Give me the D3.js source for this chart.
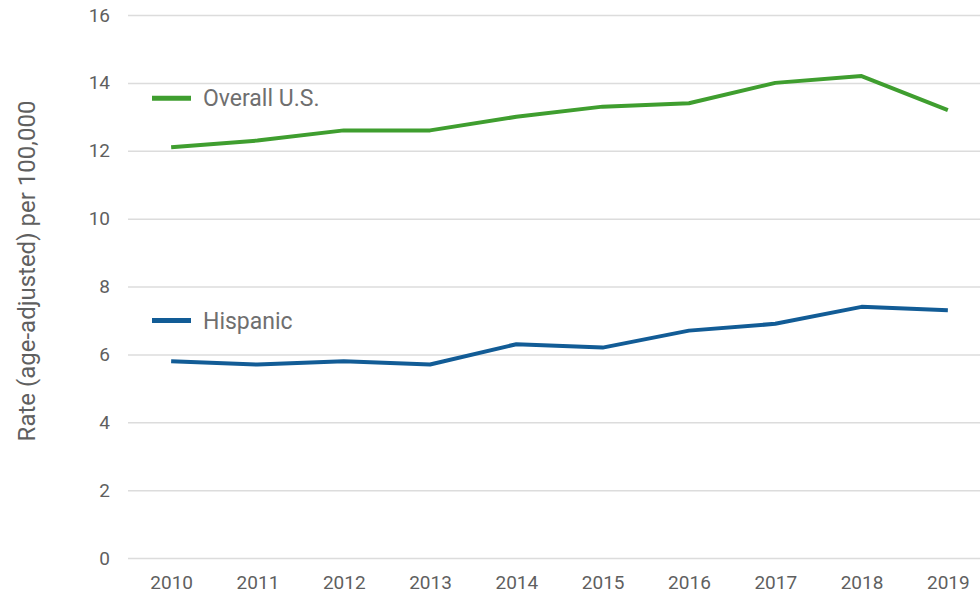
<!DOCTYPE html>
<html>
<head>
<meta charset="utf-8">
<script src="https://cdn.jsdelivr.net/npm/d3@7"></script>
<style>
  body { margin: 0; background: #fff; }
  svg text { font-family: Roboto, "Noto Sans", sans-serif; }
</style>
</head>
<body>
<div class="canvas"></div>
<script>
// data
const years = ['2010','2011','2012','2013','2014','2015','2016','2017','2018','2019'];
const overallUS = [12.1, 12.3, 12.6, 12.6, 13.0, 13.3, 13.4, 14.0, 14.2, 13.2];
const hispanic = [5.8, 5.7, 5.8, 5.7, 6.3, 6.2, 6.7, 6.9, 7.4, 7.3];
const yTicks = [0, 2, 4, 6, 8, 10, 12, 14, 16];

const seriesNames = ['Overall U.S.', 'Hispanic'];
const seriesColors = ['#3f9e2f', '#125c96'];

const dims = {width: 980, height: 594};
const plot = {left: 128, right: 991, top: 15, bottom: 558};

const svg = d3.select('.canvas').append('svg')
  .attr('width', dims.width)
  .attr('height', dims.height);

const x = d3.scalePoint()
  .domain(years)
  .range([plot.left, plot.right])
  .padding(0.5);

const y = d3.scaleLinear()
  .domain([0, 16])
  .range([plot.bottom, plot.top]);

// gridlines + y labels
const yAxis = d3.axisLeft(y)
  .tickValues(yTicks)
  .tickSize(-(dims.width - plot.left))
  .tickPadding(18);

const yg = svg.append('g')
  .attr('transform', `translate(${plot.left},0)`)
  .call(yAxis);
yg.select('.domain').remove();
yg.selectAll('line').attr('stroke', '#dcdcdc').attr('stroke-width', 1.5);
yg.selectAll('text')
  .attr('fill', '#5f5f5f')
  .attr('font-size', 19)
  .attr('x', -18);

// x labels
const xAxis = d3.axisBottom(x).tickSize(0).tickPadding(0);
const xg = svg.append('g')
  .attr('transform', `translate(0,${plot.bottom})`)
  .call(xAxis);
xg.select('.domain').remove();
xg.selectAll('text')
  .attr('fill', '#5f5f5f')
  .attr('font-size', 19)
  .attr('dy', null)
  .attr('y', 31);

// axis title
svg.append('text')
  .attr('transform', `translate(35,271) rotate(-90)`)
  .attr('text-anchor', 'middle')
  .attr('fill', '#5f5f5f')
  .attr('font-size', 24)
  .text('Rate (age-adjusted) per 100,000');

// lines
const line = d3.line()
  .x((d, i) => x(years[i]))
  .y(d => y(d));

const allSeries = [overallUS, hispanic];

svg.selectAll('path.series')
  .data(allSeries)
  .enter()
  .append('path')
    .attr('class', 'series')
    .attr('fill', 'none')
    .attr('stroke', (d, i) => seriesColors[i])
    .attr('stroke-width', 4)
    .attr('stroke-linejoin', 'round')
    .attr('d', line);

// legend labels placed inside plot
const legendY = [13.55, 7.0];
const legend = svg.selectAll('g.legend')
  .data(seriesNames)
  .enter()
  .append('g')
    .attr('class', 'legend')
    .attr('transform', (d, i) => `translate(152,${y(legendY[i])})`);

legend.append('line')
  .attr('x1', 0).attr('x2', 39)
  .attr('stroke', (d, i) => seriesColors[i])
  .attr('stroke-width', 5);

legend.append('text')
  .attr('x', 51)
  .attr('dy', '0.36em')
  .attr('fill', '#6f6f6f')
  .attr('font-size', 23)
  .text(d => d);
</script>
</body>
</html>
